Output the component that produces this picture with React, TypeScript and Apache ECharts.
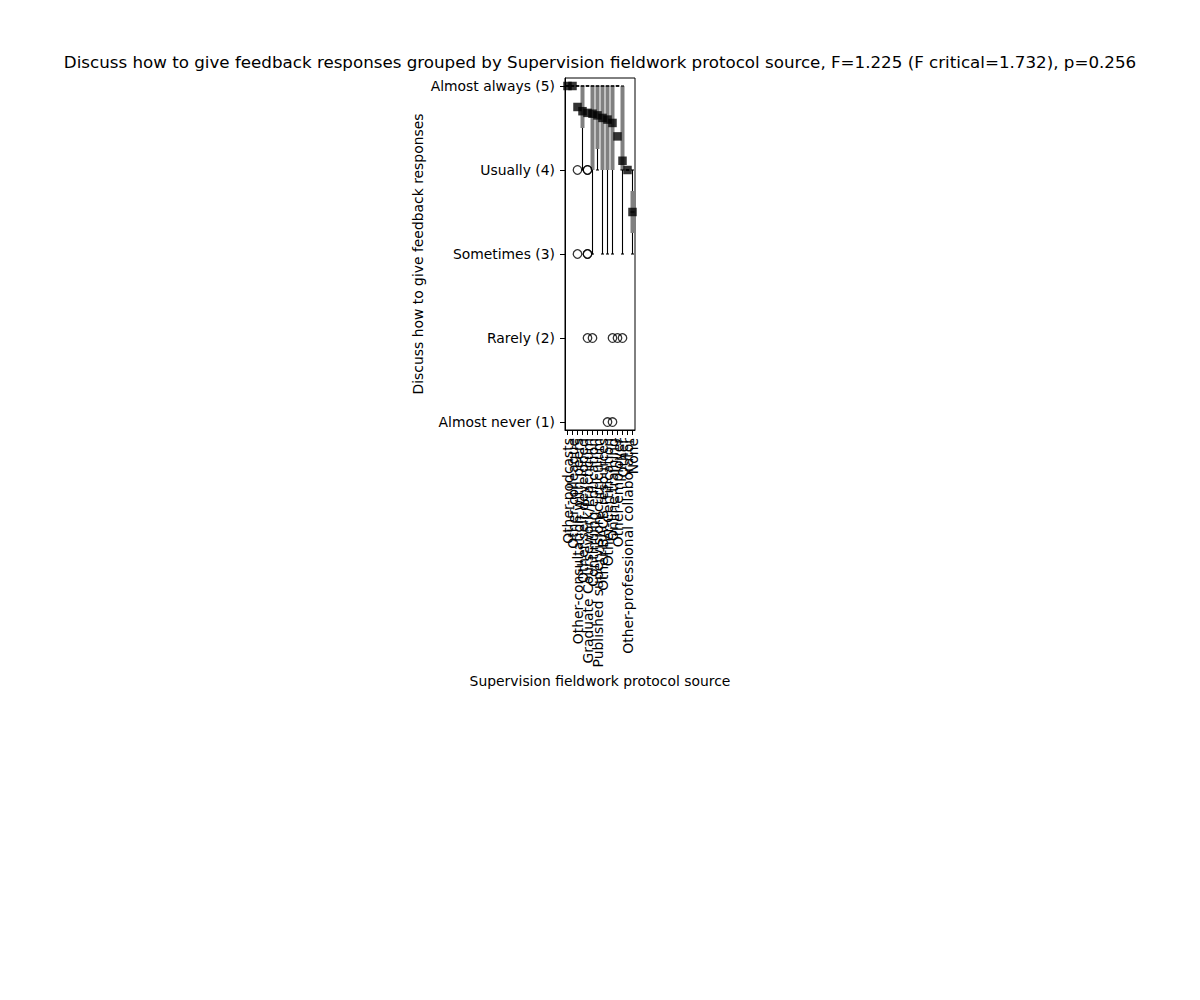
import React, { useEffect, useRef } from "react";
import * as echarts from "echarts";

const FONT = "DejaVu Sans";

const titleText =
  "Discuss how to give feedback responses grouped by Supervision fieldwork protocol source, F=1.225 (F critical=1.732), p=0.256";
const xAxisName = "Supervision fieldwork protocol source";
const yAxisName = "Discuss how to give feedback responses";

const categories = [
  "Other-podcasts",
  "Other-colleague",
  "Other-consultation with peers",
  "Other-self-developed",
  "Graduate Coursework/Practicum",
  "Continuing education",
  "Published supervision curriculum",
  "Other-BACB resources",
  "Other-Certification",
  "Online training",
  "Other-employer",
  "Other",
  "Other-professional collaborator",
  "None",
];

// box statistics per category
const whiskerLow = [5, 5, 5, 4, 5, 3, 4, 3, 3, 3, 5, 3, 4, 3];
const q1 = [5, 5, 5, 4.5, 5, 4, 4.25, 4, 4, 4, 5, 4, 4, 3.25];
const median = [5, 5, 5, 5, 5, 5, 5, 5, 5, 5, 5, 4, 4, 3.5];
const q3 = [5, 5, 5, 5, 5, 5, 5, 5, 5, 5, 5, 5, 4, 3.75];
const whiskerHigh = [5, 5, 5, 5, 5, 5, 5, 5, 5, 5, 5, 5, 4, 4];
const means = [5, 5, 4.75, 4.7, 4.68, 4.67, 4.65, 4.62, 4.6, 4.56, 4.4, 4.11, 4.0, 3.5];
const outliers: number[][] = [
  [],
  [],
  [4, 3],
  [],
  [4, 4, 3, 3, 2],
  [2],
  [],
  [],
  [1],
  [2, 1],
  [2],
  [2],
  [],
  [],
];

const yTickValues = [1, 2, 3, 4, 5];
const yTickLabels = [
  "Almost never (1)",
  "Rarely (2)",
  "Sometimes (3)",
  "Usually (4)",
  "Almost always (5)",
];

export default function App() {
  const ref = useRef<HTMLDivElement>(null);

  useEffect(() => {
    const chart = echarts.init(ref.current!, null, { renderer: "svg" });

    const boxData = categories.map((_, i) => [
      i,
      whiskerLow[i],
      q1[i],
      median[i],
      q3[i],
      whiskerHigh[i],
    ]);
    const outlierData: number[][] = [];
    outliers.forEach((vals, i) => vals.forEach((v) => outlierData.push([i, v])));
    const meanData = means.map((m, i) => [i, m]);

    const black = { color: "#000", width: 1 };

    chart.setOption({
      animation: false,
      backgroundColor: "#fff",
      textStyle: { fontFamily: FONT, color: "#000" },
      title: {
        text: titleText,
        left: "center",
        top: 48,
        textStyle: {
          fontFamily: FONT,
          fontSize: 16.7,
          fontWeight: "normal",
          color: "#000",
        },
      },
      grid: {
        left: 565,
        top: 78,
        width: 70,
        height: 352,
        show: true,
        borderColor: "#000",
        borderWidth: 1,
        backgroundColor: "transparent",
      },
      xAxis: {
        type: "category",
        data: categories,
        name: xAxisName,
        nameLocation: "middle",
        nameGap: 244,
        nameTextStyle: { fontFamily: FONT, fontSize: 13.9, color: "#000" },
        axisLine: { show: true, lineStyle: black },
        axisTick: { show: true, alignWithLabel: true, length: 5, lineStyle: black },
        axisLabel: {
          rotate: 90,
          interval: 0,
          margin: 8,
          color: "#000",
          fontFamily: FONT,
          fontSize: 13.9,
        },
        splitLine: { show: false },
      },
      yAxis: {
        type: "value",
        min: 0.905,
        max: 5.095,
        name: yAxisName,
        nameLocation: "middle",
        nameRotate: 90,
        nameGap: 140,
        nameTextStyle: { fontFamily: FONT, fontSize: 13.9, color: "#000" },
        axisLine: { show: true, lineStyle: black },
        axisTick: {
          show: true,
          length: 5,
          lineStyle: black,
          customValues: yTickValues,
        },
        axisLabel: {
          customValues: yTickValues,
          margin: 10,
          color: "#000",
          fontFamily: FONT,
          fontSize: 13.9,
          formatter: (v: number) => {
            const idx = yTickValues.indexOf(Math.round(v));
            return idx >= 0 ? yTickLabels[idx] : "";
          },
        },
        splitLine: { show: false },
      },
      series: [
        {
          type: "custom",
          name: "box",
          data: boxData,
          encode: { x: 0, y: [1, 2, 3, 4, 5] },
          z: 2,
          renderItem: (params: any, api: any) => {
            const x = api.value(0);
            const lo = api.coord([x, api.value(1)]);
            const b1 = api.coord([x, api.value(2)]);
            const md = api.coord([x, api.value(3)]);
            const b3 = api.coord([x, api.value(4)]);
            const hi = api.coord([x, api.value(5)]);
            const cx = lo[0];
            const bw = 4;
            const cw = 3;
            const ls = { stroke: "#000", lineWidth: 1.1 };
            return {
              type: "group",
              children: [
                {
                  type: "line",
                  shape: { x1: cx, y1: lo[1], x2: cx, y2: b1[1] },
                  style: ls,
                },
                {
                  type: "line",
                  shape: { x1: cx, y1: b3[1], x2: cx, y2: hi[1] },
                  style: ls,
                },
                {
                  type: "rect",
                  shape: {
                    x: cx - bw / 2,
                    y: b3[1],
                    width: bw,
                    height: Math.max(b1[1] - b3[1], 0),
                  },
                  style: { fill: "#808080" },
                },
                {
                  type: "line",
                  shape: { x1: cx - cw / 2, y1: lo[1], x2: cx + cw / 2, y2: lo[1] },
                  style: ls,
                },
                {
                  type: "line",
                  shape: { x1: cx - cw / 2, y1: hi[1], x2: cx + cw / 2, y2: hi[1] },
                  style: ls,
                },
                {
                  type: "line",
                  shape: { x1: cx - bw / 2, y1: md[1], x2: cx + bw / 2, y2: md[1] },
                  style: ls,
                },
              ],
            };
          },
        },
        {
          type: "scatter",
          name: "outliers",
          data: outlierData,
          symbol: "circle",
          symbolSize: 8.5,
          z: 3,
          itemStyle: {
            color: "rgba(0,0,0,0)",
            borderColor: "#000",
            borderWidth: 1.3,
          },
        },
        {
          type: "scatter",
          name: "means",
          data: meanData,
          symbol: "rect",
          symbolSize: 8.5,
          z: 4,
          itemStyle: { color: "#000" },
        },
      ],
    });

    return () => chart.dispose();
  }, []);

  return (
    <div
      ref={ref}
      style={{ position: "fixed", left: 0, top: 0, width: 1200, height: 1000 }}
    />
  );
}
